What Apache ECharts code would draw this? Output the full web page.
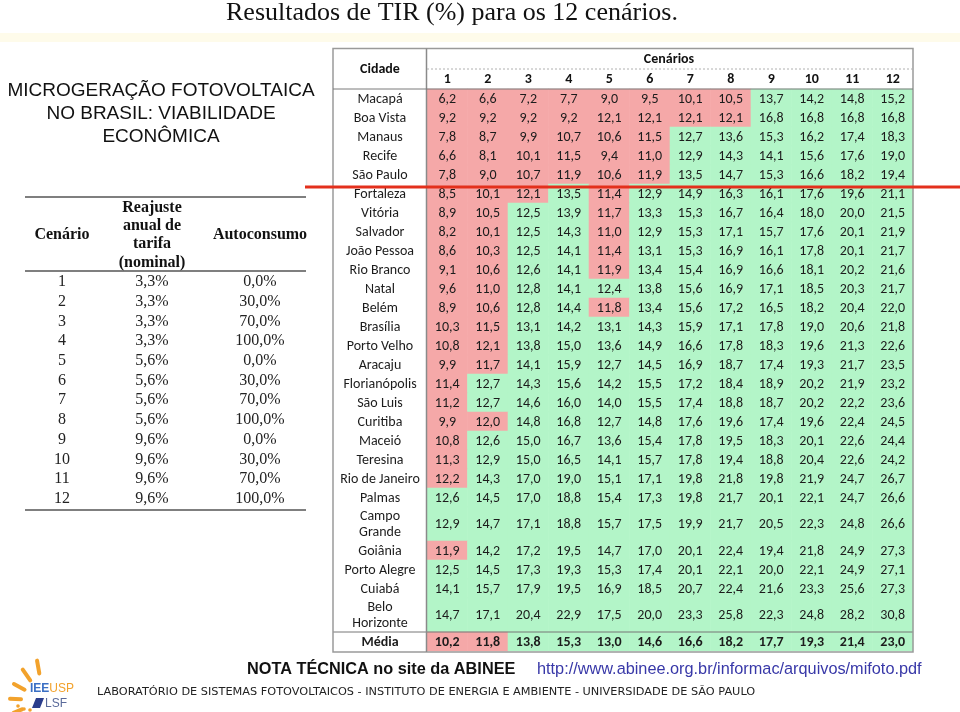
<!DOCTYPE html>
<html><head><meta charset="utf-8">
<script src="https://cdn.jsdelivr.net/npm/echarts@6/dist/echarts.min.js"></script>
<style>html,body{margin:0;padding:0;background:#fff}#c{width:960px;height:712px}</style>
</head><body><div id="c"></div>
<script>
// ---------- DATA ----------
const scenarios = ['1','2','3','4','5','6','7','8','9','10','11','12'];
const cities = ['Macapá','Boa Vista','Manaus','Recife','São Paulo','Fortaleza','Vitória','Salvador','João Pessoa','Rio Branco','Natal','Belém','Brasília','Porto Velho','Aracaju','Florianópolis','São Luis','Curitiba','Maceió','Teresina','Rio de Janeiro','Palmas','Campo\nGrande','Goiânia','Porto Alegre','Cuiabá','Belo\nHorizonte'];
const tir = [
  [6.2,6.6,7.2,7.7,9.0,9.5,10.1,10.5,13.7,14.2,14.8,15.2],
  [9.2,9.2,9.2,9.2,12.1,12.1,12.1,12.1,16.8,16.8,16.8,16.8],
  [7.8,8.7,9.9,10.7,10.6,11.5,12.7,13.6,15.3,16.2,17.4,18.3],
  [6.6,8.1,10.1,11.5,9.4,11.0,12.9,14.3,14.1,15.6,17.6,19.0],
  [7.8,9.0,10.7,11.9,10.6,11.9,13.5,14.7,15.3,16.6,18.2,19.4],
  [8.5,10.1,12.1,13.5,11.4,12.9,14.9,16.3,16.1,17.6,19.6,21.1],
  [8.9,10.5,12.5,13.9,11.7,13.3,15.3,16.7,16.4,18.0,20.0,21.5],
  [8.2,10.1,12.5,14.3,11.0,12.9,15.3,17.1,15.7,17.6,20.1,21.9],
  [8.6,10.3,12.5,14.1,11.4,13.1,15.3,16.9,16.1,17.8,20.1,21.7],
  [9.1,10.6,12.6,14.1,11.9,13.4,15.4,16.9,16.6,18.1,20.2,21.6],
  [9.6,11.0,12.8,14.1,12.4,13.8,15.6,16.9,17.1,18.5,20.3,21.7],
  [8.9,10.6,12.8,14.4,11.8,13.4,15.6,17.2,16.5,18.2,20.4,22.0],
  [10.3,11.5,13.1,14.2,13.1,14.3,15.9,17.1,17.8,19.0,20.6,21.8],
  [10.8,12.1,13.8,15.0,13.6,14.9,16.6,17.8,18.3,19.6,21.3,22.6],
  [9.9,11.7,14.1,15.9,12.7,14.5,16.9,18.7,17.4,19.3,21.7,23.5],
  [11.4,12.7,14.3,15.6,14.2,15.5,17.2,18.4,18.9,20.2,21.9,23.2],
  [11.2,12.7,14.6,16.0,14.0,15.5,17.4,18.8,18.7,20.2,22.2,23.6],
  [9.9,12.0,14.8,16.8,12.7,14.8,17.6,19.6,17.4,19.6,22.4,24.5],
  [10.8,12.6,15.0,16.7,13.6,15.4,17.8,19.5,18.3,20.1,22.6,24.4],
  [11.3,12.9,15.0,16.5,14.1,15.7,17.8,19.4,18.8,20.4,22.6,24.2],
  [12.2,14.3,17.0,19.0,15.1,17.1,19.8,21.8,19.8,21.9,24.7,26.7],
  [12.6,14.5,17.0,18.8,15.4,17.3,19.8,21.7,20.1,22.1,24.7,26.6],
  [12.9,14.7,17.1,18.8,15.7,17.5,19.9,21.7,20.5,22.3,24.8,26.6],
  [11.9,14.2,17.2,19.5,14.7,17.0,20.1,22.4,19.4,21.8,24.9,27.3],
  [12.5,14.5,17.3,19.3,15.3,17.4,20.1,22.1,20.0,22.1,24.9,27.1],
  [14.1,15.7,17.9,19.5,16.9,18.5,20.7,22.4,21.6,23.3,25.6,27.3],
  [14.7,17.1,20.4,22.9,17.5,20.0,23.3,25.8,22.3,24.8,28.2,30.8]
];
const media = [10.2,11.8,13.8,15.3,13.0,14.6,16.6,18.2,17.7,19.3,21.4,23.0];
const threshold = 12.3;
// left table
const tabScenario = [1,2,3,4,5,6,7,8,9,10,11,12];
const reajuste = [3.3,3.3,3.3,3.3,5.6,5.6,5.6,5.6,9.6,9.6,9.6,9.6];
const autoconsumo = [0,30,70,100,0,30,70,100,0,30,70,100];

// ---------- LAYOUT ----------
const GL = 427, GT = 89, GW = 486, GH = 562, CL = 333, TOP = 48.5;
const PINK = '#F5A8A8', GREEN = '#B3F5C8';
const cellFont = '"Carlito","Lato",sans-serif';
const FS = 14;
const fmt = v => v.toFixed(1).replace('.', ',');

const rowLabels = cities.concat(['Média']);
const rowValues = tir.concat([media]);
const weights = rowLabels.map(c => c.indexOf('\n') >= 0 ? 34/19 : 1);
const starts = []; let acc = 0;
weights.forEach(w => { starts.push(acc); acc += w; });
const total = acc;
const lastRow = rowLabels.length - 1;

const cellData = [];
rowValues.forEach((row, r) => row.forEach((v, c) => cellData.push([c, starts[r], starts[r] + weights[r], v, r])));
const labelData = rowLabels.map((n, r) => [0, starts[r], starts[r] + weights[r], 0, r]);

const chart = echarts.init(document.getElementById('c'), null, {renderer: 'canvas'});

const graphics = [];
// title band
graphics.push({type:'rect', shape:{x:0, y:33, width:960, height:9}, style:{fill:'#fefbea'}, silent:true});
graphics.push({type:'text', x:452, y:13, style:{text:'Resultados de TIR (%) para os 12 cenários.', font:'26px "Liberation Serif"', fill:'#111', align:'center', verticalAlign:'middle'}});
// left title
['MICROGERAÇÃO FOTOVOLTAICA','NO BRASIL: VIABILIDADE','ECONÔMICA'].forEach((t, i) => {
  graphics.push({type:'text', x:161, y:91 + i*23, style:{text:t, font:'19px "Liberation Sans"', fill:'#111', align:'center', verticalAlign:'middle'}});
});
// left table rules
[[197,1.6],[271,1.4],[510,1.6]].forEach(([y, lw]) => graphics.push({type:'line', shape:{x1:25, y1:y, x2:306, y2:y}, style:{stroke:'#555', lineWidth:lw}}));
graphics.push({type:'text', x:62, y:235, style:{text:'Cenário', font:'bold 16px "Liberation Serif"', fill:'#111', align:'center', verticalAlign:'middle'}});
graphics.push({type:'text', x:152, y:235, style:{text:'Reajuste\nanual de\ntarifa\n(nominal)', font:'bold 16px "Liberation Serif"', lineHeight:18.3, fill:'#111', align:'center', verticalAlign:'middle'}});
graphics.push({type:'text', x:260, y:235, style:{text:'Autoconsumo', font:'bold 16px "Liberation Serif"', fill:'#111', align:'center', verticalAlign:'middle'}});
tabScenario.forEach((s, i) => {
  const y = 282 + i * 19.7;
  const f = '16px "Liberation Serif"';
  graphics.push({type:'text', x:62, y, style:{text:String(s), font:f, fill:'#222', align:'center', verticalAlign:'middle'}});
  graphics.push({type:'text', x:152, y, style:{text:fmt(reajuste[i]) + '%', font:f, fill:'#222', align:'center', verticalAlign:'middle'}});
  graphics.push({type:'text', x:260, y, style:{text:fmt(autoconsumo[i]) + '%', font:f, fill:'#222', align:'center', verticalAlign:'middle'}});
});
// main table frame
graphics.push({type:'rect', z:10, shape:{x:CL, y:TOP, width:GL+GW-CL, height:GT+GH+1-TOP}, style:{fill:null, stroke:'#9a9a9a', lineWidth:1.5}});
graphics.push({type:'line', z:10, shape:{x1:GL-0.5, y1:TOP, x2:GL-0.5, y2:GT+GH+1}, style:{stroke:'#8a8a8a', lineWidth:1.5}});
graphics.push({type:'line', z:10, shape:{x1:GL, y1:69, x2:GL+GW, y2:69}, style:{stroke:'#b0b0b0', lineWidth:1, lineDash:[2,2]}});
graphics.push({type:'line', z:10, shape:{x1:CL, y1:GT, x2:GL+GW, y2:GT}, style:{stroke:'#7a7a7a', lineWidth:1}});
graphics.push({type:'text', x:380, y:69, z:10, style:{text:'Cidade', font:'bold ' + FS + 'px ' + cellFont, fill:'#111', align:'center', verticalAlign:'middle'}});
graphics.push({type:'text', x:669, y:59, z:10, style:{text:'Cenários', font:'bold ' + FS + 'px ' + cellFont, fill:'#111', align:'center', verticalAlign:'middle'}});
// red line
graphics.push({type:'line', z:20, shape:{x1:305, y1:187, x2:960, y2:187}, style:{stroke:'#E3301C', lineWidth:3}});
// footer
graphics.push({type:'text', x:247, y:670, style:{text:'NOTA TÉCNICA no site da ABINEE', font:'bold 16.3px "Liberation Sans"', fill:'#111', align:'left', verticalAlign:'middle'}});
graphics.push({type:'text', x:537, y:670, style:{text:'http://www.abinee.org.br/informac/arquivos/mifoto.pdf', font:'16.3px "Liberation Sans"', fill:'#3838A8', align:'left', verticalAlign:'middle'}});
graphics.push({type:'text', x:97, y:692, style:{text:'LABORATÓRIO DE SISTEMAS FOTOVOLTAICOS - INSTITUTO DE ENERGIA E AMBIENTE - UNIVERSIDADE DE SÃO PAULO', font:'11.3px "DejaVu Sans"', fill:'#222', align:'left', verticalAlign:'middle'}});
// logo
const cx = 44, cy = 700;
[[100,27,40],[125,24,37],[152,22,34],[178,23,34],[203,24,33]].forEach(([a, r1, r2]) => {
  const t = a * Math.PI / 180;
  graphics.push({type:'line', shape:{x1:cx + r1*Math.cos(t), y1:cy - r1*Math.sin(t), x2:cx + r2*Math.cos(t), y2:cy - r2*Math.sin(t)}, style:{stroke:'#F2A22C', lineWidth:4, lineCap:'round'}});
});
[[18,706],[24,709],[30,710]].forEach(([x, y]) => graphics.push({type:'circle', shape:{cx:x, cy:y, r:1.8}, style:{fill:'#F2A22C'}}));
graphics.push({type:'text', x:30, y:689, style:{rich:{a:{fill:'#3A6FC4', font:'bold 12px "Liberation Sans"'}, b:{fill:'#F2A22C', font:'12px "Liberation Sans"'}}, text:'{a|IEE}{b|USP}', align:'left', verticalAlign:'middle'}});
graphics.push({type:'polygon', shape:{points:[[32,708],[36,698],[44,698],[40,708]]}, style:{fill:'#2B3E8C'}});
graphics.push({type:'text', x:45, y:704, style:{text:'LSF', font:'12px "Liberation Sans"', fill:'#5A6A9A', align:'left', verticalAlign:'middle'}});

const option = {
  backgroundColor: '#fff',
  animation: false,
  grid: {left: GL, top: GT, width: GW, height: GH},
  xAxis: {
    type: 'category', data: scenarios, position: 'top',
    axisLine: {show: false}, axisTick: {show: false}, splitLine: {show: false},
    axisLabel: {fontFamily: cellFont, fontWeight: 'bold', fontSize: FS, color: '#111', margin: 10, verticalAlign: 'middle'}
  },
  yAxis: {type: 'value', min: 0, max: total, inverse: true, show: false},
  visualMap: {
    type: 'piecewise', show: false, seriesIndex: 0, dimension: 3,
    pieces: [{lt: threshold, color: PINK}, {gte: threshold, color: GREEN}]
  },
  graphic: graphics,
  series: [
    {
      type: 'custom', data: cellData, z: 2,
      renderItem(params, api) {
        const c = api.value(0);
        const p0 = api.coord([c, api.value(1)]);
        const p1 = api.coord([c, api.value(2)]);
        const w = api.size([1, 0])[0];
        const r = api.value(4);
        const v = api.value(3);
        return {type: 'group', children: [
          {type: 'rect', shape: {x: p0[0] - w/2 - 0.3, y: p0[1] - 0.3, width: w + 0.6, height: p1[1] - p0[1] + 0.6}, style: {fill: api.visual('color')}},
          {type: 'text', x: p0[0], y: (p0[1] + p1[1]) / 2 + 0.5, style: {text: fmt(v), font: (r === lastRow ? 'bold ' : '') + FS + 'px ' + cellFont, fill: '#1c1c1c', align: 'center', verticalAlign: 'middle'}}
        ]};
      }
    },
    {
      type: 'custom', data: labelData, z: 3, silent: true,
      renderItem(params, api) {
        const r = api.value(4);
        const p0 = api.coord([0, api.value(1)]);
        const p1 = api.coord([0, api.value(2)]);
        const w = api.size([1, 0])[0];
        const left = p0[0] - w/2;
        const children = [
          {type: 'text', x: left - 47, y: (p0[1] + p1[1]) / 2 + 0.5, style: {text: rowLabels[r], font: (r === lastRow ? 'bold ' : '') + FS + 'px ' + cellFont, lineHeight: 16.5, fill: '#1c1c1c', align: 'center', verticalAlign: 'middle'}}
        ];
        if (r === lastRow) {
          children.push({type: 'line', shape: {x1: left - (GL - CL), y1: p0[1], x2: left + w*12, y2: p0[1]}, style: {stroke: '#777', lineWidth: 1}});
        }
        return {type: 'group', children};
      }
    }
  ]
};
chart.setOption(option);
</script>
</body></html>
